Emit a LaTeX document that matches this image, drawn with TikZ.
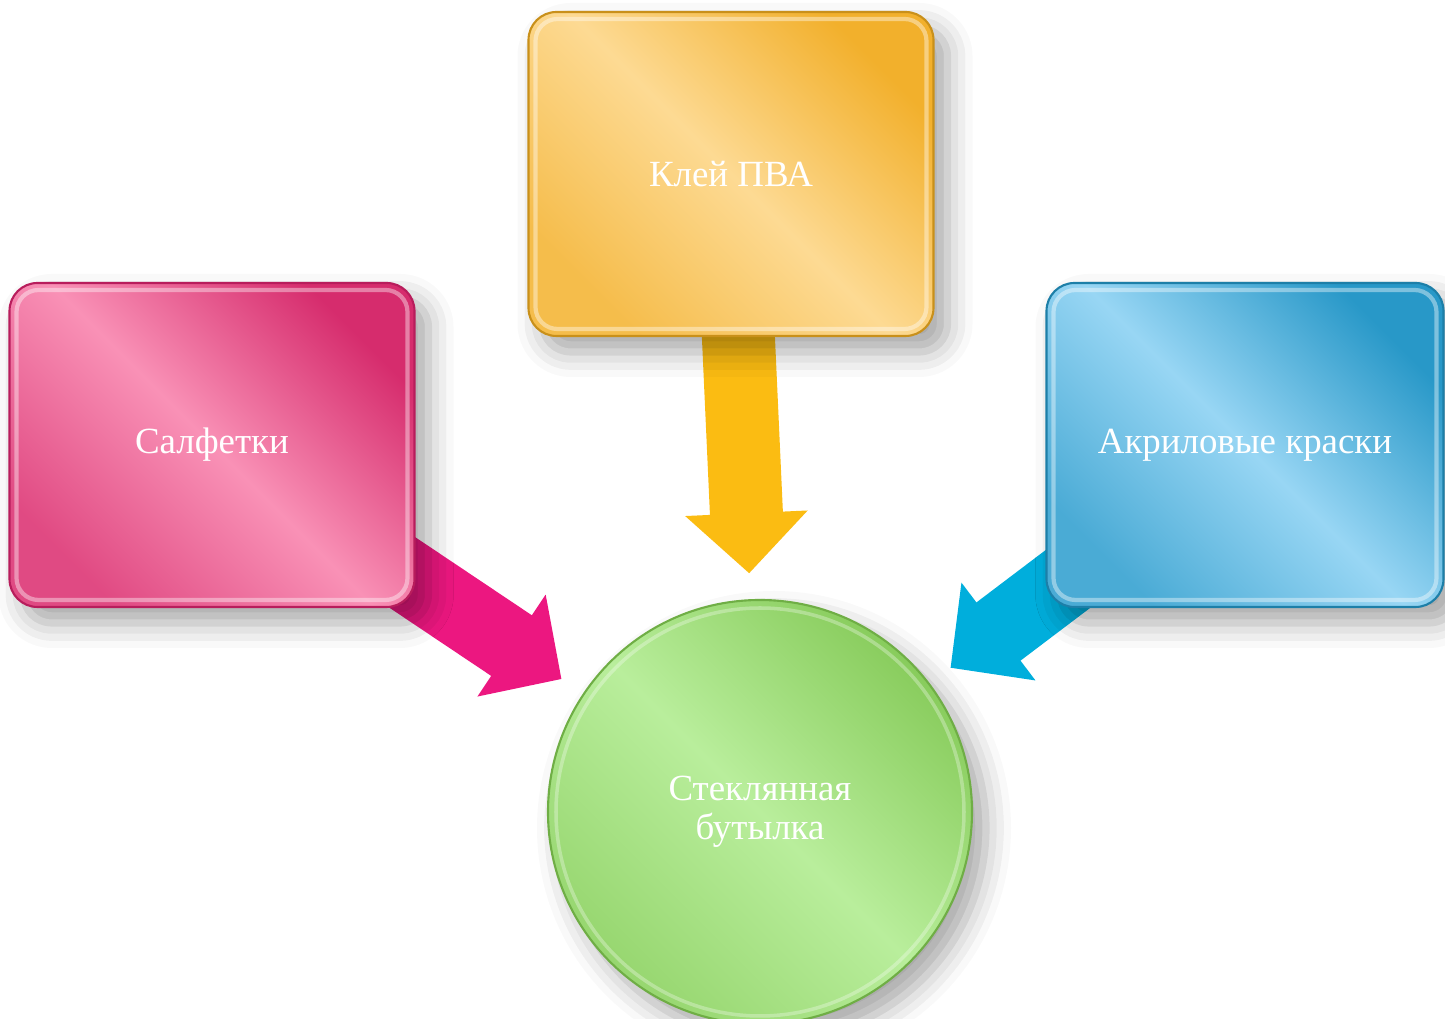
\documentclass[tikz,border=0pt]{standalone}
\usepackage{fontspec}
\setmainfont{Liberation Serif}
\usetikzlibrary{arrows.meta, shadows.blur, positioning}
\definecolor{pinkDark}{HTML}{D62C6D}
\definecolor{pinkLight}{HTML}{F991B6}
\definecolor{pinkEdge}{HTML}{B81D5C}
\definecolor{pinkArrow}{HTML}{EC1780}
\definecolor{yellowDark}{HTML}{F2B02C}
\definecolor{yellowLight}{HTML}{FDDA93}
\definecolor{yellowEdge}{HTML}{C9901A}
\definecolor{yellowArrow}{HTML}{FBBC12}
\definecolor{blueDark}{HTML}{2898C8}
\definecolor{blueLight}{HTML}{98D6F4}
\definecolor{blueEdge}{HTML}{1D7FA8}
\definecolor{blueArrow}{HTML}{00AEDC}
\definecolor{greenDark}{HTML}{88CC5C}
\definecolor{greenLight}{HTML}{B9EE9C}
\definecolor{greenEdge}{HTML}{6FAE45}
\pgfdeclarelayer{bg}
\pgfsetlayers{bg,main}
\tikzstyle{roundBox} = [rectangle, rounded corners=0.28cm, minimum width=4.05cm, minimum height=3.24cm, text=white, font=\fontsize{10.5}{11}\selectfont, line width=0.6pt, blur shadow={shadow xshift=0.14cm, shadow yshift=-0.16cm, shadow blur radius=0.25cm, shadow opacity=35}, path picture={\draw[white, opacity=0.4, line width=1.2pt, rounded corners=0.22cm] ([shift={(0.07,0.07)}]path picture bounding box.south west) rectangle ([shift={(-0.07,-0.07)}]path picture bounding box.north east);}]
\tikzstyle{roundNode} = [circle, minimum size=4.24cm, text=white, align=center, font=\fontsize{10.5}{11}\selectfont, line width=0.6pt, blur shadow={shadow xshift=0.14cm, shadow yshift=-0.16cm, shadow blur radius=0.25cm, shadow opacity=35}, path picture={\draw[white, opacity=0.3, line width=1pt] (path picture bounding box.center) circle (2.04cm);}]
\tikzstyle{fatArrow} = [line width=0.73cm, -{Triangle[width=1.22cm, length=0.6cm, line width=1pt]}, shorten >=0.26cm]
\tikzstyle{pinkFill} = [draw=pinkEdge, top color=pinkDark, bottom color=pinkDark!70!pinkLight, middle color=pinkLight, shading angle=-45]
\tikzstyle{yellowFill} = [draw=yellowEdge, top color=yellowDark, bottom color=yellowDark!70!yellowLight, middle color=yellowLight, shading angle=-45]
\tikzstyle{blueFill} = [draw=blueEdge, top color=blueDark, bottom color=blueDark!70!blueLight, middle color=blueLight, shading angle=-45]
\tikzstyle{greenFill} = [draw=greenEdge, top color=greenDark, bottom color=greenDark!70!greenLight, middle color=greenLight, shading angle=-45]
\begin{document}
\begin{tikzpicture}[node distance=2.71cm]
    \useasboundingbox (0,0) rectangle (14.45,10.19);
    \node (glue) [roundBox, yellowFill] at (7.31,8.45) {Клей ПВА};
    \node (wipes) [roundBox, pinkFill, below of = glue, xshift=-5.19cm] {Салфетки};
    \node (paint) [roundBox, blueFill, minimum width=3.97cm, below of = glue, xshift=5.14cm] {Акриловые краски};
    \node (bottle) [roundNode, greenFill, below of = glue, yshift=-3.67cm, xshift=0.29cm] {Стеклянная\\бутылка};
    \begin{pgfonlayer}{bg}
        \draw [fatArrow, pinkArrow] (wipes.center) -- (bottle);
        \draw [fatArrow, yellowArrow] (glue.center) -- (bottle);
        \draw [fatArrow, blueArrow] (paint.center) -- (bottle);
    \end{pgfonlayer}
\end{tikzpicture}
\end{document}
